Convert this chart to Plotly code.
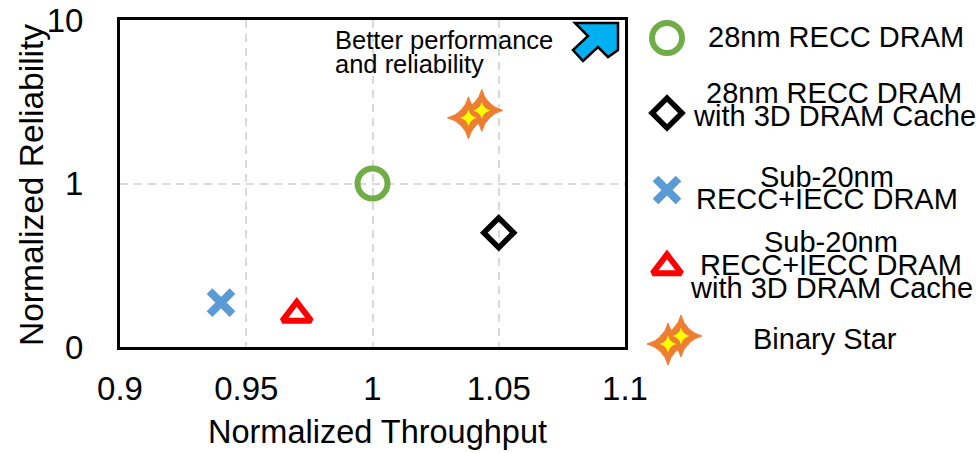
import plotly.graph_objects as go

# ---------------- data ----------------
recc_x = [1.0]
recc_y = [1.0]
recc3d_x = [1.05]
recc3d_y = [0.5]
sub20_x = [0.94]
sub20_y = [0.187]
sub20_3d_x = [0.97]
sub20_3d_y = [0.158]
binary_x = [1.038, 1.0433]
binary_y = [2.52, 2.80]

x_ticks = [0.9, 0.95, 1.0, 1.05, 1.1]
x_tick_labels = ["0.9", "0.95", "1", "1.05", "1.1"]
y_ticks = [0.1, 1, 10]
y_tick_labels = ["0", "1", "10"]

legend_labels = [
    ["28nm RECC DRAM"],
    ["28nm RECC DRAM", "with 3D DRAM Cache"],
    ["Sub-20nm", "RECC+IECC DRAM"],
    ["Sub-20nm", "RECC+IECC DRAM", "with 3D DRAM Cache"],
    ["Binary Star"],
]

# ---------------- layout geometry ----------------
W, H = 979, 453
ML, MR, MT, MB = 120, 4, 20, 106
PW = W - ML - MR
PH = H - MT - MB


def px(xp):
    return (xp - ML) / PW


def py(yp):
    return (H - MB - yp) / PH


FONT = "Liberation Sans, Arial, sans-serif"
GREEN = "#70AD47"
BLUE = "#5B9BD5"
RED = "#FF0000"
ORANGE = "#ED7D31"
YELLOW = "#FFFF00"

fig = go.Figure()


def add_series(x, y, marker, xa="x", ya="y"):
    fig.add_trace(go.Scatter(x=x, y=y, mode="markers", marker=marker,
                             xaxis=xa, yaxis=ya, showlegend=False,
                             cliponaxis=False, hoverinfo="skip"))


m_circle = dict(symbol="circle-open", size=30, color=GREEN, line=dict(color=GREEN, width=6))
m_diamond = dict(symbol="diamond-open", size=23, color="black", line=dict(color="black", width=5.5))
m_x = dict(symbol="x-thin-open", size=23, color=BLUE, line=dict(color=BLUE, width=8))
m_tri = dict(symbol="triangle-up-open", size=25, color=RED, line=dict(color=RED, width=6))
m_star_o = dict(symbol="star-diamond", size=30, color=ORANGE, line=dict(color=ORANGE, width=1))
m_star_i = dict(symbol="star-diamond", size=12, color=YELLOW, line=dict(width=0))

add_series(recc_x, recc_y, m_circle)
add_series(recc3d_x, recc3d_y, m_diamond)
add_series(sub20_x, sub20_y, m_x)
add_series(sub20_3d_x, sub20_3d_y, m_tri)
add_series(binary_x, binary_y, m_star_o)
add_series(binary_x, binary_y, m_star_i)

# ---------------- manual legend (axis x2/y2 in pixel-like units) ----------------
leg_mx = 667
leg_my = [38, 113, 190, 267, 340]
add_series([leg_mx], [leg_my[0]], m_circle, "x2", "y2")
add_series([leg_mx], [leg_my[1]], m_diamond, "x2", "y2")
add_series([leg_mx], [leg_my[2]], m_x, "x2", "y2")
add_series([leg_mx], [leg_my[3]], m_tri, "x2", "y2")
star_lx = [leg_mx + 1, leg_mx + 14]
star_ly = [leg_my[4] + 4, leg_my[4] - 4]
add_series(star_lx, star_ly, m_star_o, "x2", "y2")
add_series(star_lx, star_ly, m_star_i, "x2", "y2")

leg_text_y = [[36], [92, 115], [176, 198], [241, 264, 287], [338]]
leg_text_x = [836, 834, 827, 831, 825]
annotations = []
for labels, ys, cx in zip(legend_labels, leg_text_y, leg_text_x):
    for lab, yy in zip(labels, ys):
        annotations.append(dict(x=cx, y=yy + 1, xref="x2", yref="y2", text=lab,
                                showarrow=False, xanchor="center", yanchor="middle",
                                font=dict(family=FONT, size=29, color="black")))

# in-plot note
for txt, yy in [("Better performance", 39), ("and reliability", 63)]:
    annotations.append(dict(x=px(333), y=py(yy + 1), xref="paper", yref="paper", text=txt,
                            showarrow=False, xanchor="left", yanchor="middle",
                            font=dict(family=FONT, size=25.5, color="black")))

# axis titles
annotations.append(dict(x=px(377), y=py(432), xref="paper", yref="paper",
                        text="Normalized Throughput", showarrow=False,
                        xanchor="center", yanchor="middle",
                        font=dict(family=FONT, size=32.5, color="black")))
annotations.append(dict(x=px(31), y=py(185), xref="paper", yref="paper",
                        text="Normalized Reliability", showarrow=False, textangle=-90,
                        xanchor="center", yanchor="middle",
                        font=dict(family=FONT, size=33.5, color="black")))

# arrow shape (decoration)
arrow_pts = [(575, 23), (618, 23), (618, 50), (608, 57), (598, 47),
             (583, 61), (573, 50), (588, 36)]
path = "M " + " L ".join(f"{px(a):.5f},{py(b):.5f}" for a, b in arrow_pts) + " Z"

fig.update_layout(
    width=W, height=H,
    margin=dict(l=ML, r=MR, t=MT, b=MB, autoexpand=False),
    paper_bgcolor="white", plot_bgcolor="white",
    showlegend=False,
    xaxis=dict(domain=[0, (625 - ML) / PW], range=[0.9, 1.1], automargin=False,
               tickvals=x_ticks, ticktext=x_tick_labels,
               showgrid=True, gridcolor="#D9D9D9", gridwidth=2, griddash="8px,6px",
               zeroline=False, showline=True, linecolor="black", linewidth=3, mirror=True,
               ticks="", ticklabelstandoff=10,
               tickfont=dict(family=FONT, size=33, color="black")),
    yaxis=dict(domain=[0, 1], type="log", range=[-1, 1], automargin=False,
               tickvals=y_ticks, ticktext=y_tick_labels,
               showgrid=True, gridcolor="#D9D9D9", gridwidth=2, griddash="8px,6px",
               zeroline=False, showline=True, linecolor="black", linewidth=3, mirror=True,
               ticks="", ticklabelstandoff=27,
               tickfont=dict(family=FONT, size=33, color="black")),
    xaxis2=dict(domain=[px(640), 1], range=[640, 975], visible=False, anchor="y2"),
    yaxis2=dict(domain=[0, 1], range=[H - MB, MT], visible=False, anchor="x2"),
    annotations=annotations,
    shapes=[dict(type="path", path=path, xref="paper", yref="paper",
                 fillcolor="#00B0F0", line=dict(color="black", width=2.5))],
)

fig.write_html("out.html", config={"displayModeBar": False},
               post_script="document.body.style.margin='0px';document.body.style.padding='0px';")
